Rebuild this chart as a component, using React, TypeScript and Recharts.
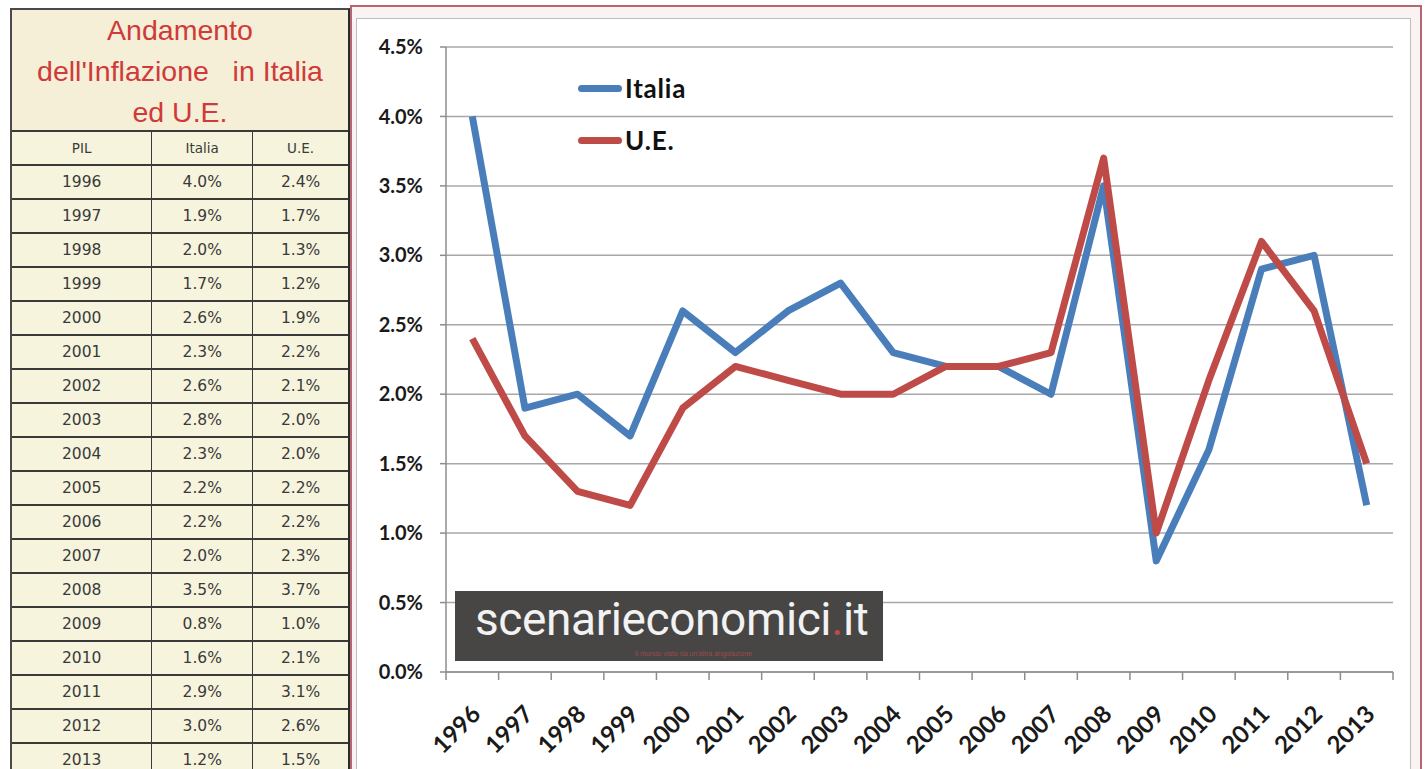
import { LineChart, Line, XAxis, YAxis, CartesianGrid } from 'recharts'

const YEARS = ['1996', '1997', '1998', '1999', '2000', '2001', '2002', '2003', '2004', '2005', '2006', '2007', '2008', '2009', '2010', '2011', '2012', '2013']
const ITALIA = [4.0, 1.9, 2.0, 1.7, 2.6, 2.3, 2.6, 2.8, 2.3, 2.2, 2.2, 2.0, 3.5, 0.8, 1.6, 2.9, 3.0, 1.2]
const UE = [2.4, 1.7, 1.3, 1.2, 1.9, 2.2, 2.1, 2.0, 2.0, 2.2, 2.2, 2.3, 3.7, 1.0, 2.1, 3.1, 2.6, 1.5]
const Y_TICKS = [0, 0.5, 1.0, 1.5, 2.0, 2.5, 3.0, 3.5, 4.0, 4.5]

const TITLE_LINES = ['Andamento', "dell'Inflazione   in Italia", 'ed U.E.']
const TABLE_HEAD = ['PIL', 'Italia', 'U.E.']

const BLUE = '#4a7ebb'
const RED = '#be4b48'

const SERIES = [
  { key: 'italia', name: 'Italia', color: BLUE },
  { key: 'ue', name: 'U.E.', color: RED },
]

const data = YEARS.map((y, i) => ({ year: y, italia: ITALIA[i], ue: UE[i] }))

const fmt = (v: number) => `${v.toFixed(1)}%`

// chart geometry
const CHART_W = 1050
const CHART_H = 749
const PLOT_W = 947
const BAND = PLOT_W / YEARS.length

function XTick(props: any) {
  const { x, y, payload, index } = props
  const lx = x + 3
  const ly = y + 29
  return (
    <g>
      <line x1={x - BAND / 2} x2={x - BAND / 2} y1={y - 8} y2={y} stroke="#8c8c8c" strokeWidth={1.5} />
      {index === YEARS.length - 1 && (
        <line x1={x + BAND / 2} x2={x + BAND / 2} y1={y - 8} y2={y} stroke="#8c8c8c" strokeWidth={1.5} />
      )}
      <text
        x={lx}
        y={ly}
        transform={`rotate(-45 ${lx} ${ly})`}
        textAnchor="end"
        dominantBaseline="central"
        fontFamily="Lato, 'Open Sans', sans-serif"
        fontWeight={700}
        fontSize={24}
        fill="#1a1a1a"
      >
        {payload.value}
      </text>
    </g>
  )
}

function DataTable() {
  const cell = (w: number, last = false) => ({
    width: w,
    textAlign: 'center' as const,
    borderRight: last ? 'none' : '1px solid #3a3a3a',
    lineHeight: '32px',
  })
  const rowStyle = {
    display: 'flex',
    height: 34,
    borderBottom: '2px solid #3a3a3a',
    boxSizing: 'border-box' as const,
    fontFamily: "'DejaVu Sans', Verdana, sans-serif",
    fontSize: 15.5,
    color: '#3a3a3a',
  }
  return (
    <div
      style={{
        position: 'absolute',
        left: 10,
        top: 8,
        width: 340,
        height: 770,
        background: '#f6f4dd',
        borderLeft: '2px solid #4a4a4a',
        borderRight: '2px solid #2a2a2a',
        borderTop: '2px solid #4a4a4a',
        boxSizing: 'border-box',
        overflow: 'hidden',
      }}
    >
      <div
        style={{
          height: 122,
          background: '#f4efd6',
          borderBottom: '2px solid #3a3a3a',
          boxSizing: 'border-box',
          textAlign: 'center',
          fontFamily: "'Liberation Sans', Arial, sans-serif",
          fontSize: 28.5,
          lineHeight: '41px',
          color: '#d03a3a',
          whiteSpace: 'pre',
        }}
      >
        {TITLE_LINES.map((t) => (
          <div key={t}>{t}</div>
        ))}
      </div>
      <div style={{ ...rowStyle, fontSize: 13.5 }}>
        <div style={cell(141)}>{TABLE_HEAD[0]}</div>
        <div style={cell(101)}>{TABLE_HEAD[1]}</div>
        <div style={cell(96, true)}>{TABLE_HEAD[2]}</div>
      </div>
      {YEARS.map((y, i) => (
        <div key={y} style={rowStyle}>
          <div style={cell(141)}>{y}</div>
          <div style={cell(101)}>{fmt(ITALIA[i])}</div>
          <div style={cell(96, true)}>{fmt(UE[i])}</div>
        </div>
      ))}
    </div>
  )
}

export default function App() {
  return (
    <div style={{ position: 'absolute', left: 0, top: 0, width: 1427, height: 769, background: '#fff', overflow: 'hidden' }}>
      {/* outer reddish frame and inner grey frame of the chart panel */}
      <div style={{ position: 'absolute', left: 350, top: 5, width: 1072, height: 780, border: '2px solid #b56670', background: '#fbf3f3', boxSizing: 'border-box' }} />
      <div style={{ position: 'absolute', left: 356, top: 18, width: 1055, height: 780, border: '1px solid #b9c0bd', background: '#fff', boxSizing: 'border-box' }} />

      <DataTable />

      <div style={{ position: 'absolute', left: 360, top: 20 }}>
        <LineChart width={CHART_W} height={CHART_H} data={data} margin={{ top: 27, right: 17, left: 0, bottom: 7 }}>
          <CartesianGrid vertical={false} stroke="#a8a8a8" strokeWidth={1.5} />
          <XAxis
            dataKey="year"
            interval={0}
            height={90}
            padding={{ left: BAND / 2, right: BAND / 2 }}
            axisLine={{ stroke: '#8c8c8c', strokeWidth: 1.5 }}
            tickLine={false}
            tick={<XTick />}
          />
          <YAxis
            domain={[0, 4.5]}
            ticks={Y_TICKS}
            width={86}
            tickFormatter={fmt}
            axisLine={{ stroke: '#8c8c8c', strokeWidth: 1.5 }}
            tickLine={{ stroke: '#8c8c8c', strokeWidth: 1.5 }}
            tickSize={6}
            tickMargin={17}
            tick={{ fill: '#1a1a1a', fontSize: 20, fontWeight: 700, fontFamily: "Lato, 'Open Sans', sans-serif" }}
          />
          {SERIES.map((s) => (
            <Line
              key={s.key}
              type="linear"
              dataKey={s.key}
              name={s.name}
              stroke={s.color}
              strokeWidth={7}
              dot={false}
              strokeLinejoin="round"
              isAnimationActive={false}
            />
          ))}
        </LineChart>
      </div>

      {/* legend */}
      <div style={{ position: 'absolute', left: 578, top: 62 }}>
        {SERIES.map((s) => (
          <div key={s.key} style={{ display: 'flex', alignItems: 'center', height: 52 }}>
            <span style={{ width: 44, height: 7, background: s.color, borderRadius: 4, display: 'inline-block' }} />
            <span style={{ marginLeft: 3, fontFamily: "Lato, 'Open Sans', sans-serif", fontWeight: 700, fontSize: 26, letterSpacing: 0.8, color: '#111' }}>
              {s.name}
            </span>
          </div>
        ))}
      </div>

      {/* watermark */}
      <div
        style={{
          position: 'absolute',
          left: 455,
          top: 591,
          width: 428,
          height: 70,
          background: '#474645',
          boxSizing: 'border-box',
          paddingLeft: 20,
        }}
      >
        <div style={{ fontFamily: "Roboto, 'Liberation Sans', sans-serif", fontSize: 46, color: '#f2f2f2', lineHeight: '56px', letterSpacing: -0.4 }}>
          scenarieconomici<span style={{ color: '#c04848' }}>.</span>it
        </div>
        <div style={{ position: 'absolute', left: 180, top: 58, fontFamily: "'Liberation Sans', sans-serif", fontSize: 7, lineHeight: '9px', color: '#9c4a4a' }}>
          il mondo visto da un'altra angolazione
        </div>
      </div>
    </div>
  )
}
